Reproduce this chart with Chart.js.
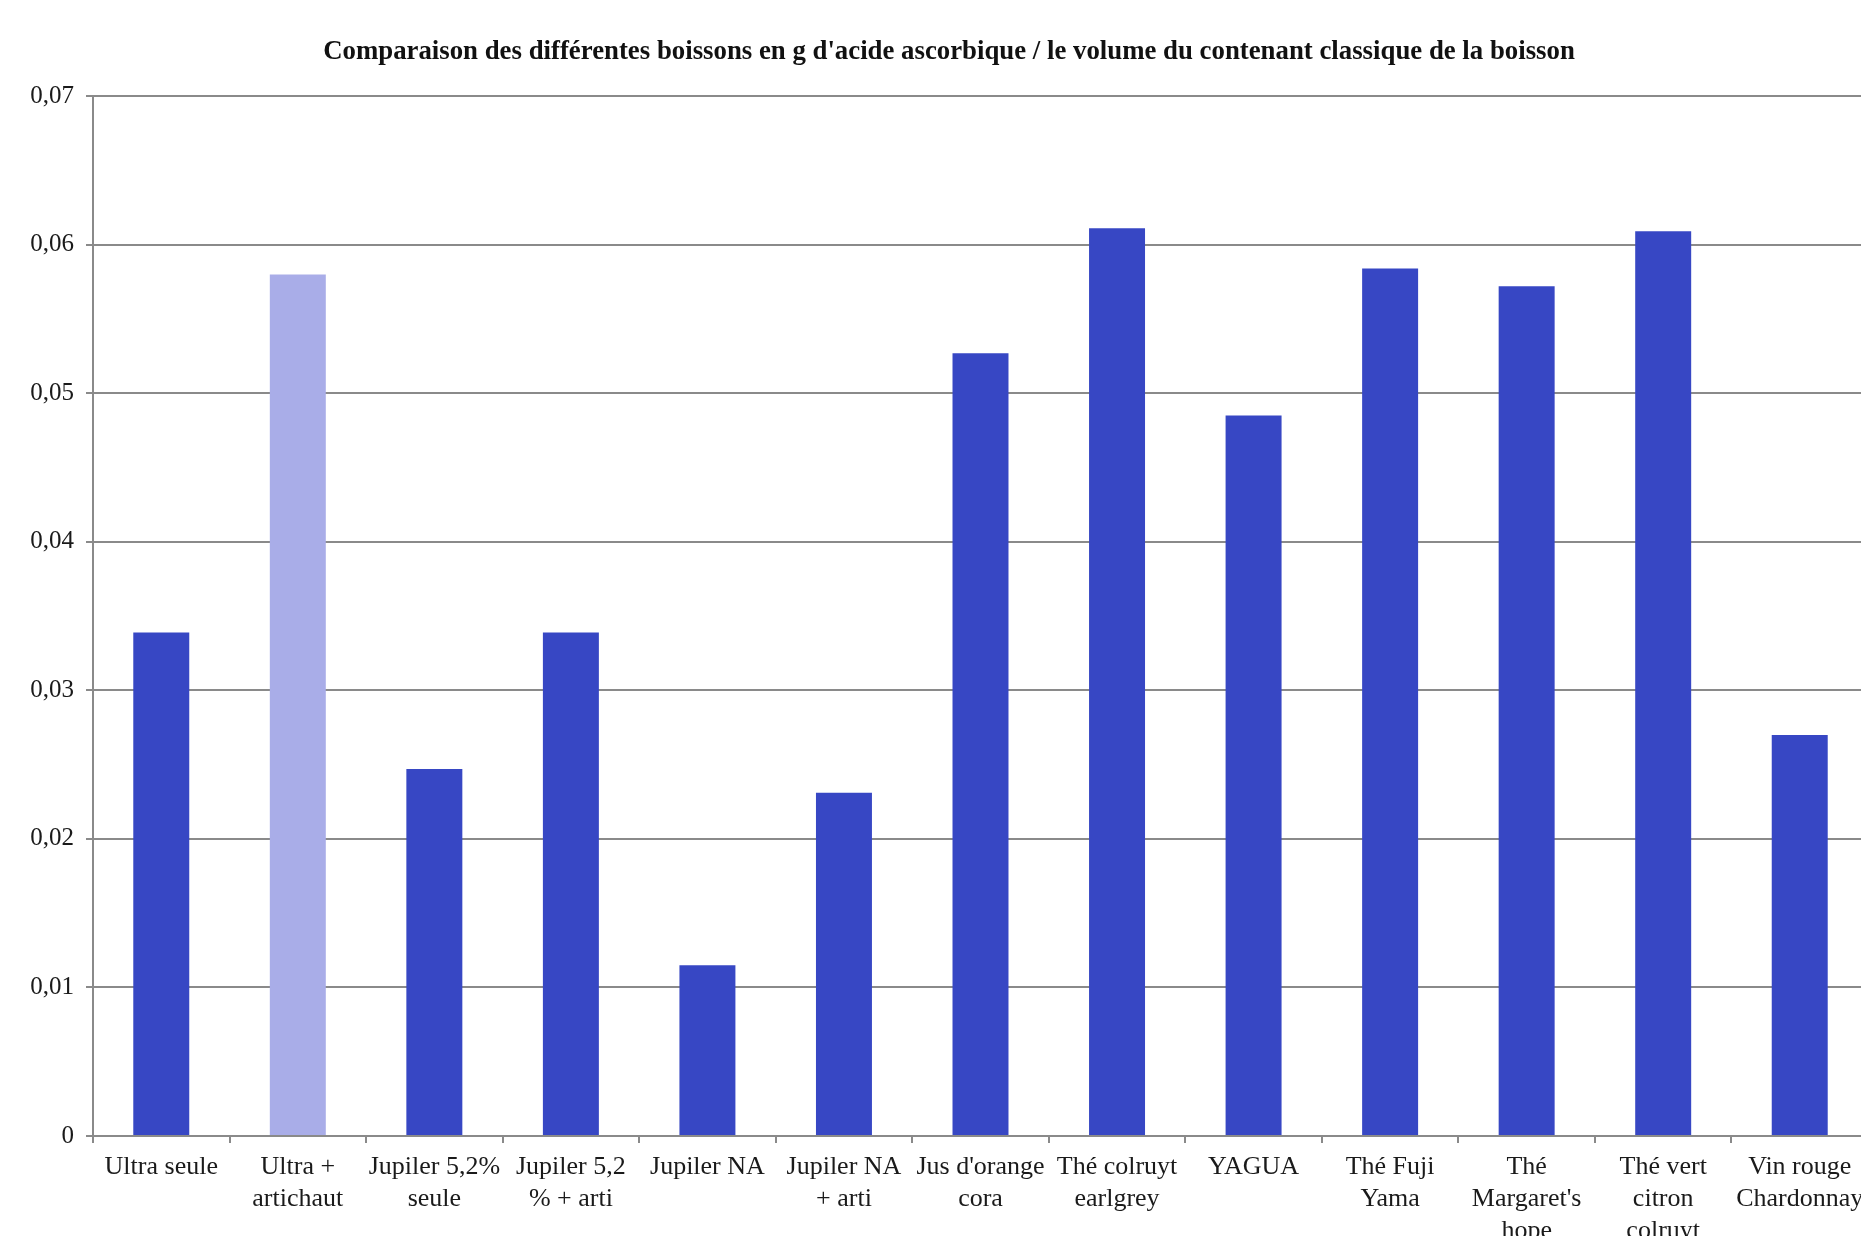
<!DOCTYPE html>
<html>
<head>
<meta charset="utf-8">
<script src="https://cdn.jsdelivr.net/npm/chart.js@4.4.1/dist/chart.umd.min.js"></script>
<style>
  html, body { margin: 0; padding: 0; background: #ffffff; overflow: hidden; }
  #wrap { width: 1898px; height: 1290px; }
</style>
</head>
<body>
<div id="wrap"><canvas id="c" width="1898" height="1290"></canvas></div>
<script>
const categories = [
  ["Ultra seule"],
  ["Ultra +", "artichaut"],
  ["Jupiler 5,2%", "seule"],
  ["Jupiler 5,2", "% + arti"],
  ["Jupiler NA"],
  ["Jupiler NA", "+ arti"],
  ["Jus d'orange", "cora"],
  ["Thé colruyt", "earlgrey"],
  ["YAGUA"],
  ["Thé Fuji", "Yama"],
  ["Thé", "Margaret's", "hope"],
  ["Thé vert", "citron", "colruyt"],
  ["Vin rouge", "Chardonnay"]
];
const acideAscorbique = [0.0339, 0.0580, 0.0247, 0.0339, 0.0115, 0.0231, 0.0527, 0.0611, 0.0485, 0.0584, 0.0572, 0.0609, 0.0270];
const yTicks = [0, 0.01, 0.02, 0.03, 0.04, 0.05, 0.06, 0.07];
const highlighted = [1];
const title = "Comparaison des différentes boissons en g d'acide ascorbique / le volume du contenant classique de la boisson";

const dark = "#3747C4";
const light = "#A9ADE8";
const gridColor = "#8a8a8a";

new Chart(document.getElementById("c"), {
  type: "bar",
  data: {
    labels: categories,
    datasets: [{
      data: acideAscorbique,
      backgroundColor: acideAscorbique.map((v, i) => highlighted.includes(i) ? light : dark),
      borderWidth: 0,
      barPercentage: 0.41,
      categoryPercentage: 1.0
    }]
  },
  options: {
    responsive: false,
    animation: false,
    devicePixelRatio: 1,
    layout: { padding: { left: 30, right: 30, top: 0, bottom: 0 } },
    plugins: {
      legend: { display: false },
      tooltip: { enabled: false },
      title: {
        display: true,
        text: title,
        color: "#111",
        font: { family: "Liberation Serif", size: 26.8, weight: "bold" },
        padding: { top: 36, bottom: 28 }
      }
    },
    scales: {
      x: {
        offset: true,
        grid: { display: true, drawOnChartArea: false, drawTicks: true, tickLength: 7, color: gridColor, lineWidth: 2, offset: true },
        border: { display: true, color: gridColor, width: 2 },
        ticks: {
          autoSkip: false, maxRotation: 0, minRotation: 0,
          color: "#1a1a1a", padding: 8,
          font: { family: "Liberation Serif", size: 26, lineHeight: 1.23 }
        },
        afterFit: (s) => { s.height = 154; }
      },
      y: {
        min: 0, max: 0.07,
        afterBuildTicks: (s) => { s.ticks = yTicks.map(v => ({ value: v })); },
        grid: { color: gridColor, lineWidth: 2, tickLength: 7 },
        border: { display: true, color: gridColor, width: 2 },
        ticks: {
          color: "#1a1a1a", padding: 12,
          font: { family: "Liberation Serif", size: 25 },
          callback: (v) => v === 0 ? "0" : v.toFixed(2).replace(".", ",")
        },
        afterFit: (s) => { s.width = 63; }
      }
    }
  }
});
</script>
</body>
</html>
